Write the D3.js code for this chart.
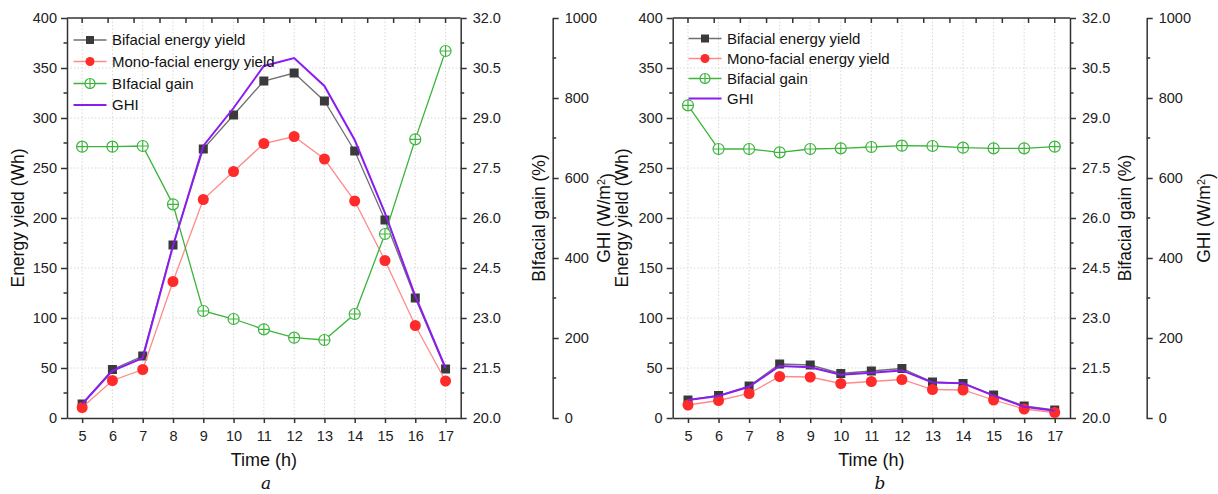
<!DOCTYPE html>
<html>
<head>
<meta charset="utf-8">
<script src="https://cdn.jsdelivr.net/npm/d3@7"></script>
<style>
  html, body { margin: 0; padding: 0; background: #fff; }
  svg { display: block; font-family: Arial, "Liberation Sans", sans-serif; }
</style>
</head>
<body>
<svg id="chart" width="1218" height="494"></svg>
<script>
// ---------------- data ----------------
const hours = [5, 6, 7, 8, 9, 10, 11, 12, 13, 14, 15, 16, 17];

// panel a
const bifacialA = [14, 48.5, 62, 173, 269, 303, 337, 345, 317, 267, 198, 120, 49];
const monoA     = [10.5, 37.5, 48.5, 136.5, 218.5, 246.5, 274.5, 281.5, 259, 217, 157.5, 92.5, 37];
const gainA     = [28.14, 28.14, 28.16, 26.41, 23.21, 22.97, 22.66, 22.41, 22.34, 23.12, 25.52, 28.36, 31.01];
const ghiA      = [35, 118, 150, 430, 680, 775, 880, 900, 830, 695, 512, 305, 125];

// panel b
const bifacialB = [18, 22.5, 32, 54, 53, 44.5, 47, 49.5, 36, 34.5, 23, 12, 8];
const monoB     = [13, 17.5, 24.5, 41.5, 41, 34.5, 36.5, 38.5, 28.5, 28, 18, 9, 5.5];
const gainB     = [29.38, 28.07, 28.07, 27.97, 28.07, 28.09, 28.13, 28.17, 28.16, 28.11, 28.09, 28.09, 28.14];
const ghiB      = [45, 55, 78, 130, 127, 108, 113, 119, 89, 87, 56, 28, 18];

const yieldTicks = [0, 50, 100, 150, 200, 250, 300, 350, 400];
const gainTicks  = [20.0, 21.5, 23.0, 24.5, 26.0, 27.5, 29.0, 30.5, 32.0];
const ghiTicks   = [0, 200, 400, 600, 800, 1000];

const legendA = ["Bifacial energy yield", "Mono-facial energy yield", "BIfacial gain", "GHI"];
const legendB = ["Bifacial energy yield", "Mono-facial energy yield", "Bifacial gain", "GHI"];

const xTitle = "Time (h)";
const yTitle = "Energy yield (Wh)";
const gainTitleA = "BIfacial gain (%)";
const gainTitleB = "Bifacial gain (%)";
const panelLetters = ["a", "b"];

// ---------------- style ----------------
const C = {
  biLine: "#6f6f6f", biMark: "#3a3a3a",
  monoLine: "#ff8a8a", monoMark: "#ff2a2a",
  gain: "#3cb43c",
  ghi: "#8a1cf0",
  axis: "#333",
  grid: "#d8d8d8"
};

const svg = d3.select("#chart");

function drawPanel(cfg) {
  const g = svg.append("g");
  const top = 18, bottom = 418;
  const x = d3.scaleLinear().domain([4.5, 17.5]).range([cfg.x0, cfg.x1]);
  const y = d3.scaleLinear().domain([0, 400]).range([bottom, top]);
  const yG = d3.scaleLinear().domain([20, 32]).range([bottom, top]);
  const yH = d3.scaleLinear().domain([0, 1000]).range([bottom, top]);

  // grid
  g.append("g").selectAll("line.h").data(yieldTicks.filter(d => d > 0 && d < 400)).join("line")
    .attr("x1", cfg.x0).attr("x2", cfg.x1).attr("y1", d => y(d)).attr("y2", d => y(d))
    .attr("stroke", C.grid).attr("stroke-width", 1).attr("stroke-dasharray", "1.5,2");
  g.append("g").selectAll("line.v").data(hours).join("line")
    .attr("x1", d => x(d)).attr("x2", d => x(d)).attr("y1", top).attr("y2", bottom)
    .attr("stroke", C.grid).attr("stroke-width", 1).attr("stroke-dasharray", "1.5,2");

  // axes
  const fs = "14.5px";
  function styleAxis(sel) {
    sel.selectAll("path, line").attr("stroke", C.axis).attr("stroke-width", 1.5);
    sel.selectAll("text").attr("fill", "#222").style("font-size", fs)
      .style("font-family", 'Arial, "Liberation Sans", sans-serif');
  }
  const minorY = d3.range(25, 400, 50);
  const minorG = d3.range(20.75, 32, 1.5);
  const minorH = d3.range(100, 1000, 200);

  // left axis
  const aL = g.append("g").attr("transform", `translate(${cfg.x0},0)`)
    .call(d3.axisLeft(y).tickValues(yieldTicks).tickFormat(d3.format("d")).tickSize(6).tickSizeOuter(0).tickPadding(4));
  styleAxis(aL);
  g.append("g").selectAll("line").data(minorY).join("line")
    .attr("x1", cfg.x0 - 3.5).attr("x2", cfg.x0).attr("y1", d => y(d)).attr("y2", d => y(d))
    .attr("stroke", C.axis).attr("stroke-width", 1.5);

  // bottom axis
  const aB = g.append("g").attr("transform", `translate(0,${bottom})`)
    .call(d3.axisBottom(x).tickValues(hours).tickFormat(d3.format("d")).tickSize(5).tickSizeOuter(0).tickPadding(8));
  styleAxis(aB);

  // top axis (inward ticks)
  const xt = d3.scaleLinear().domain([0, 14]).range([x(5), x(17)]);
  g.append("line").attr("x1", cfg.x0).attr("x2", cfg.x1).attr("y1", top).attr("y2", top)
    .attr("stroke", C.axis).attr("stroke-width", 1.5);
  g.append("g").selectAll("line").data(d3.range(0, 15)).join("line")
    .attr("x1", d => xt(d)).attr("x2", d => xt(d)).attr("y1", top).attr("y2", top + 5)
    .attr("stroke", C.axis).attr("stroke-width", 1.5);

  // gain axis (right of plot)
  const aG = g.append("g").attr("transform", `translate(${cfg.x1},0)`)
    .call(d3.axisRight(yG).tickValues(gainTicks).tickFormat(d3.format(".1f")).tickSize(6).tickSizeOuter(0).tickPadding(6));
  styleAxis(aG);
  g.append("g").selectAll("line").data(minorG).join("line")
    .attr("x1", cfg.x1).attr("x2", cfg.x1 + 3.5).attr("y1", d => yG(d)).attr("y2", d => yG(d))
    .attr("stroke", C.axis).attr("stroke-width", 1.5);

  // GHI axis (offset)
  const aH = g.append("g").attr("transform", `translate(${cfg.xH},0)`)
    .call(d3.axisRight(yH).tickValues(ghiTicks).tickFormat(d3.format("d")).tickSize(6).tickSizeOuter(0).tickPadding(6));
  styleAxis(aH);
  g.append("g").selectAll("line").data(minorH).join("line")
    .attr("x1", cfg.xH).attr("x2", cfg.xH + 3.5).attr("y1", d => yH(d)).attr("y2", d => yH(d))
    .attr("stroke", C.axis).attr("stroke-width", 1.5);

  // series
  const line = (ys, arr) => d3.line().x((d, i) => x(hours[i])).y(d => ys(d))(arr);

  g.append("path").attr("d", line(y, cfg.bi)).attr("fill", "none").attr("stroke", C.biLine).attr("stroke-width", 1.3);
  g.append("g").selectAll("rect").data(cfg.bi).join("rect")
    .attr("x", (d, i) => x(hours[i]) - 4.5).attr("y", d => y(d) - 4.5)
    .attr("width", 9).attr("height", 9).attr("fill", C.biMark);

  g.append("path").attr("d", line(y, cfg.mono)).attr("fill", "none").attr("stroke", C.monoLine).attr("stroke-width", 1.3);
  g.append("g").selectAll("circle").data(cfg.mono).join("circle")
    .attr("cx", (d, i) => x(hours[i])).attr("cy", d => y(d)).attr("r", 5.5).attr("fill", C.monoMark);

  g.append("path").attr("d", line(yG, cfg.gain)).attr("fill", "none").attr("stroke", C.gain).attr("stroke-width", 1.3);
  const gm = g.append("g").selectAll("g").data(cfg.gain).join("g")
    .attr("transform", (d, i) => `translate(${x(hours[i])},${yG(d)})`);
  gm.append("circle").attr("r", 5.5).attr("fill", "#fff").attr("stroke", C.gain).attr("stroke-width", 1.2);
  gm.append("path").attr("d", "M-5.5,0H5.5M0,-5.5V5.5").attr("stroke", C.gain).attr("stroke-width", 1.2);

  g.append("path").attr("d", line(yH, cfg.ghi)).attr("fill", "none").attr("stroke", C.ghi).attr("stroke-width", 2);

  // legend
  const lg = g.append("g");
  cfg.legend.forEach((lab, i) => {
    const ly = cfg.legY[i];
    const lx0 = cfg.legX, lx1 = cfg.legX + 33, mx = cfg.legX + 16.5;
    const col = [C.biLine, C.monoLine, C.gain, C.ghi][i];
    lg.append("line").attr("x1", lx0).attr("x2", lx1).attr("y1", ly).attr("y2", ly)
      .attr("stroke", col).attr("stroke-width", i === 3 ? 2 : 1.3);
    if (i === 0) lg.append("rect").attr("x", mx - 4).attr("y", ly - 4).attr("width", 8).attr("height", 8).attr("fill", C.biMark);
    if (i === 1) lg.append("circle").attr("cx", mx).attr("cy", ly).attr("r", 4.5).attr("fill", C.monoMark);
    if (i === 2) {
      lg.append("circle").attr("cx", mx).attr("cy", ly).attr("r", 5).attr("fill", "#fff").attr("stroke", C.gain).attr("stroke-width", 1.2);
      lg.append("path").attr("d", `M${mx - 5},${ly}H${mx + 5}M${mx},${ly - 5}V${ly + 5}`).attr("stroke", C.gain).attr("stroke-width", 1.2);
    }
    lg.append("text").attr("x", cfg.legX + 38.5).attr("y", ly).attr("dy", "0.35em")
      .style("font-size", "15px").attr("fill", "#111").text(lab);
  });

  // titles
  const cy = (top + bottom) / 2;
  g.append("text").attr("transform", `translate(${cfg.yTitleX},${cy}) rotate(-90)`)
    .attr("text-anchor", "middle").style("font-size", "17.5px").attr("fill", "#111").text(yTitle);
  g.append("text").attr("transform", `translate(${cfg.gTitleX},${cy}) rotate(-90)`)
    .attr("text-anchor", "middle").style("font-size", "17.5px").attr("fill", "#111").text(cfg.gainTitle);
  const ht = g.append("text").attr("transform", `translate(${cfg.hTitleX},${cy}) rotate(-90)`)
    .attr("text-anchor", "middle").style("font-size", "17.5px").attr("fill", "#111");
  ht.append("tspan").text("GHI (W/m");
  ht.append("tspan").attr("dy", "-0.45em").style("font-size", "11px").text("2");
  ht.append("tspan").attr("dy", "0.45em").text(")");

  g.append("text").attr("x", (cfg.x0 + cfg.x1) / 2).attr("y", 466).attr("text-anchor", "middle")
    .style("font-size", "18px").attr("fill", "#111").text(xTitle);
  g.append("text").attr("x", cfg.letterX).attr("y", 489).attr("text-anchor", "middle")
    .style("font-size", "17px").style("font-style", "italic").style("font-family", '"DejaVu Serif", serif')
    .attr("fill", "#111").text(cfg.letter);
}

drawPanel({
  x0: 67, x1: 460.7, xH: 552.7,
  bi: bifacialA, mono: monoA, gain: gainA, ghi: ghiA,
  legend: legendA, legX: 73.5, legY: [40, 61.5, 83.5, 105],
  yTitleX: 24, gTitleX: 545, hTitleX: 610, gainTitle: gainTitleA,
  letter: panelLetters[0], letterX: 266
});
drawPanel({
  x0: 672.7, x1: 1070, xH: 1146.7,
  bi: bifacialB, mono: monoB, gain: gainB, ghi: ghiB,
  legend: legendB, legX: 688.5, legY: [38.5, 58.5, 78.5, 98.5],
  yTitleX: 628, gTitleX: 1131, hTitleX: 1210, gainTitle: gainTitleB,
  letter: panelLetters[1], letterX: 880
});
</script>
</body>
</html>
